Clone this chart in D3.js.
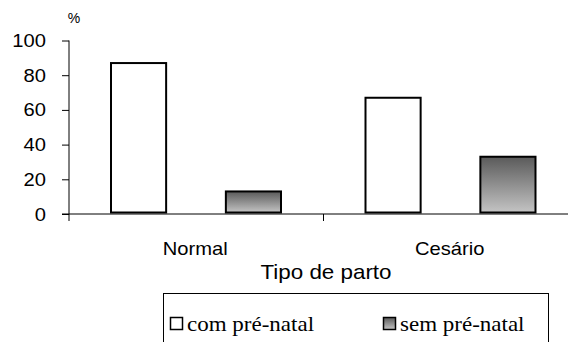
<!DOCTYPE html>
<html><head><meta charset="utf-8">
<script src="https://cdn.jsdelivr.net/npm/d3@7"></script>
<style>html,body{margin:0;padding:0;background:#fff}svg{display:block}
.sans{font-family:"Liberation Sans",Arial,sans-serif}
.serif{font-family:"Liberation Serif","Times New Roman","DejaVu Serif",serif}
</style>
</head><body>
<svg id="chart" width="568" height="342"></svg>
<script>
const categories = ["Normal", "Cesário"];
const seriesNames = ["com pré-natal", "sem pré-natal"];
const comPreNatal = [87, 67];
const semPreNatal = [13, 33];
const yTicks = [0, 20, 40, 60, 80, 100];
const yUnit = "%";
const xTitle = "Tipo de parto";

(function () {
const values = [comPreNatal, semPreNatal];
const svg = d3.select("#chart");
const W = 568;
const mLeft = 69, mTop = 40.5, mBottom = 214;
const plotRight = 578;
const SX = 1.12;

const defs = svg.append("defs");
const grad = defs.append("linearGradient").attr("id", "g").attr("x1", 0).attr("y1", 0).attr("x2", 0).attr("y2", 1);
grad.append("stop").attr("offset", "0%").attr("stop-color", "#5a5a5a");
grad.append("stop").attr("offset", "100%").attr("stop-color", "#c4c4c4");

const y = d3.scaleLinear().domain([0, 100]).range([mBottom, mTop]);
const x0 = d3.scaleBand().domain(categories).range([mLeft, plotRight]);
const x1 = d3.scaleBand().domain(seriesNames).range([42, 212]).paddingInner(0.52);
const fills = ["#ffffff", "url(#g)"];

function label(x, yy, txt, cls, size, anchor, sx) {
  svg.append("text").attr("class", cls)
    .attr("transform", `translate(${x},${yy}) scale(${sx},1)`)
    .attr("text-anchor", anchor).attr("font-size", size).attr("fill", "#000").text(txt);
}

// y axis
const yAxis = svg.append("g").attr("transform", `translate(${mLeft},0)`)
  .call(d3.axisLeft(y).tickValues(yTicks).tickSize(7).tickFormat(""));
yAxis.select(".domain").remove();
yAxis.selectAll(".tick line").attr("stroke", "#000");
yTicks.forEach(t => label(46, y(t) + 6.5, d3.format("d")(t), "sans", 18, "end", SX));
svg.append("line").attr("x1", mLeft).attr("x2", mLeft).attr("y1", mTop).attr("y2", mBottom + 7).attr("stroke", "#000");

// x axis
const xAxis = svg.append("g").attr("transform", `translate(0,${mBottom})`)
  .call(d3.axisBottom(x0).tickSize(0).tickPadding(0).tickFormat(""));
xAxis.select(".domain").remove();
svg.append("line").attr("x1", mLeft - 7).attr("x2", W).attr("y1", mBottom).attr("y2", mBottom).attr("stroke", "#000");
categories.forEach(c => {
  svg.append("line").attr("x1", x0(c) + x0.bandwidth()).attr("x2", x0(c) + x0.bandwidth())
    .attr("y1", mBottom).attr("y2", mBottom + 7).attr("stroke", "#000");
});

// bars
seriesNames.forEach((s, si) => {
  svg.append("g").selectAll("rect").data(categories).join("rect")
    .attr("x", c => x0(c) + x1(s))
    .attr("y", (c, i) => y(values[si][i]))
    .attr("width", x1.bandwidth())
    .attr("height", (c, i) => y(0) - 1.5 - y(values[si][i]))
    .attr("fill", fills[si]).attr("stroke", "#000").attr("stroke-width", 2);
});

// category labels
categories.forEach(c => label(x0(c) + x0.bandwidth() / 2 - 1, 255, c, "sans", 18, "middle", SX));

label(326, 279, xTitle, "sans", 20, "middle", SX);
label(74, 23, yUnit, "sans", 14, "middle", 1);

// legend
svg.append("rect").attr("x", 163.5).attr("y", 293.5).attr("width", 385).attr("height", 60)
  .attr("fill", "none").attr("stroke", "#000");
const legX = [170, 383];
seriesNames.forEach((s, i) => {
  svg.append("rect").attr("x", legX[i] + 0.5).attr("y", 317.5).attr("width", 12).attr("height", 12)
    .attr("fill", fills[i]).attr("stroke", "#000").attr("stroke-width", 1.5);
  label(legX[i] + 17, 331, s, "serif", 20, "start", 1.15);
});
})();
</script>
</body></html>
